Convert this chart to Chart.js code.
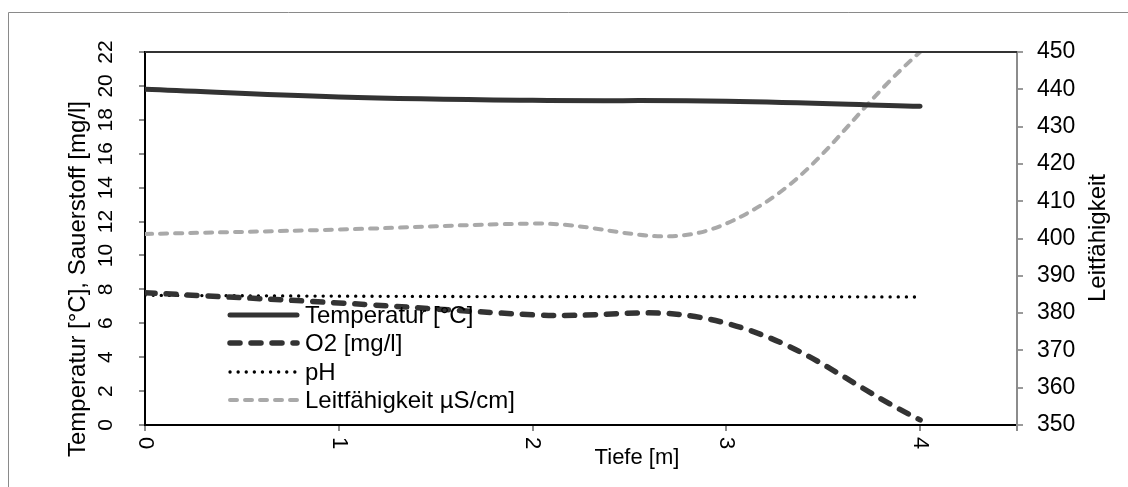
<!DOCTYPE html>
<html>
<head>
<meta charset="utf-8">
<script src="https://cdn.jsdelivr.net/npm/chart.js@4.4.1/dist/chart.umd.min.js"></script>
<style>
  html, body { margin: 0; padding: 0; background: #ffffff; }
  #wrap { width: 1128px; height: 487px; position: relative; }
</style>
</head>
<body>
<div id="wrap"><canvas id="c" width="1128" height="487"></canvas></div>
<script>
// Depth profile: temperature, oxygen, pH and conductivity
const depth = [0, 1, 2, 3, 4];
const temperature = [19.8, 19.35, 19.15, 19.1, 18.8];
const oxygen = [7.8, 7.2, 6.5, 6.0, 0.3];
const ph = [7.65, 7.6, 7.57, 7.57, 7.55];
const conductivity = [401.2, 402.4, 404, 404, 450];

const seriesNames = ['Temperatur [°C]', 'O2 [mg/l]', 'pH', 'Leitfähigkeit µS/cm]'];
const xTitle = 'Tiefe [m]';
const yTitle = 'Temperatur [°C], Sauerstoff [mg/l]';
const y1Title = 'Leitfähigkeit';

const FONT = '"Liberation Sans", Arial, sans-serif';

const pts = (ys) => depth.map((d, i) => ({ x: d, y: ys[i] }));

const styles = [
  { color: '#333333', width: 5, dash: [], cap: 'round' },
  { color: '#333333', width: 5.5, dash: [10, 11], cap: 'round' },
  { color: '#000000', width: 3.3, dash: [0.1, 8], cap: 'round' },
  { color: '#a9a9a9', width: 4, dash: [7, 8], cap: 'round' }
];

const datasets = [temperature, oxygen, ph, conductivity].map((arr, i) => ({
  label: seriesNames[i],
  data: pts(arr),
  yAxisID: i === 3 ? 'y1' : 'y',
  borderColor: styles[i].color,
  borderWidth: styles[i].width,
  borderDash: styles[i].dash,
  borderCapStyle: styles[i].cap,
  borderJoinStyle: 'round',
  pointRadius: 0,
  fill: false,
  tension: 0.4
}));

const decor = {
  id: 'decor',
  beforeDraw(chart) {
    const ctx = chart.ctx;
    ctx.save();
    ctx.strokeStyle = '#8a8a8a';
    ctx.lineWidth = 1;
    ctx.beginPath();
    ctx.moveTo(8.5, 487);
    ctx.lineTo(8.5, 12.5);
    ctx.lineTo(1128, 12.5);
    ctx.stroke();
    ctx.restore();
  },
  afterDraw(chart) {
    const ctx = chart.ctx;
    const a = chart.chartArea;
    const xs = chart.scales.x;
    ctx.save();
    // top edge of the plot frame
    ctx.strokeStyle = '#333333';
    ctx.lineWidth = 2;
    ctx.beginPath();
    ctx.moveTo(a.left, a.top);
    ctx.lineTo(a.right, a.top);
    ctx.stroke();

    // rotated depth tick labels
    ctx.fillStyle = '#000000';
    ctx.font = '22px ' + FONT;
    xs.ticks.forEach(t => {
      if (Math.abs(t.value - Math.round(t.value)) > 1e-9) return;
      const px = xs.getPixelForValue(t.value);
      ctx.save();
      ctx.translate(px, a.bottom + 12);
      ctx.rotate(Math.PI / 2);
      ctx.textAlign = 'left';
      ctx.textBaseline = 'middle';
      ctx.fillText(String(t.value), 0, 0);
      ctx.restore();
    });

    // axis titles
    ctx.font = '22px ' + FONT;
    ctx.textAlign = 'center';
    ctx.textBaseline = 'middle';
    ctx.fillText(xTitle, 637, 458);

    ctx.save();
    ctx.translate(78, 279);
    ctx.rotate(-Math.PI / 2);
    ctx.font = '24px ' + FONT;
    ctx.fillText(yTitle, 0, 0);
    ctx.restore();

    ctx.save();
    ctx.translate(1098, 238);
    ctx.rotate(-Math.PI / 2);
    ctx.font = '24px ' + FONT;
    ctx.fillText(y1Title, 0, 0);
    ctx.restore();

    // legend
    const rows = [315, 343, 372, 400];
    chart.data.datasets.forEach((ds, i) => {
      const y = rows[i];
      ctx.save();
      ctx.strokeStyle = ds.borderColor;
      ctx.lineWidth = ds.borderWidth;
      ctx.lineCap = ds.borderCapStyle;
      ctx.setLineDash(ds.borderDash);
      ctx.beginPath();
      ctx.moveTo(230, y);
      ctx.lineTo(297, y);
      ctx.stroke();
      ctx.restore();
      ctx.fillStyle = '#000000';
      ctx.font = '24px ' + FONT;
      ctx.textAlign = 'left';
      ctx.textBaseline = 'middle';
      ctx.fillText(ds.label, 305, y + 1);
    });
    ctx.restore();
  }
};

new Chart(document.getElementById('c'), {
  type: 'line',
  data: { datasets },
  options: {
    responsive: false,
    animation: false,
    devicePixelRatio: 1,
    layout: { padding: { top: 52, left: 0, right: 0, bottom: 0 } },
    plugins: { legend: { display: false }, tooltip: { enabled: false } },
    scales: {
      x: {
        type: 'linear',
        min: 0,
        max: 4.5,
        ticks: { stepSize: 1, display: false },
        grid: { drawOnChartArea: false, drawTicks: true, tickLength: 6, color: '#8c8c8c', lineWidth: 2 },
        border: { color: '#000000', width: 2 },
        afterFit(s) { s.height = 62; }
      },
      y: {
        position: 'left',
        min: 0,
        max: 22,
        ticks: {
          stepSize: 2,
          minRotation: 90,
          maxRotation: 90,
          crossAlign: 'center',
          padding: 21,
          color: '#000000',
          font: { family: FONT, size: 21 }
        },
        grid: { drawOnChartArea: false, drawTicks: true, tickLength: 6, color: '#8c8c8c', lineWidth: 2 },
        border: { color: '#000000', width: 2 },
        afterFit(s) { s.width = 145; }
      },
      y1: {
        position: 'right',
        min: 350,
        max: 450,
        ticks: {
          stepSize: 10,
          padding: 14,
          color: '#000000',
          font: { family: FONT, size: 23 }
        },
        grid: { drawOnChartArea: false, drawTicks: true, tickLength: 6, color: '#9a9a9a', lineWidth: 2 },
        border: { color: '#8c8c8c', width: 2 },
        afterFit(s) { s.width = 111; }
      }
    }
  },
  plugins: [decor]
});
</script>
</body>
</html>
